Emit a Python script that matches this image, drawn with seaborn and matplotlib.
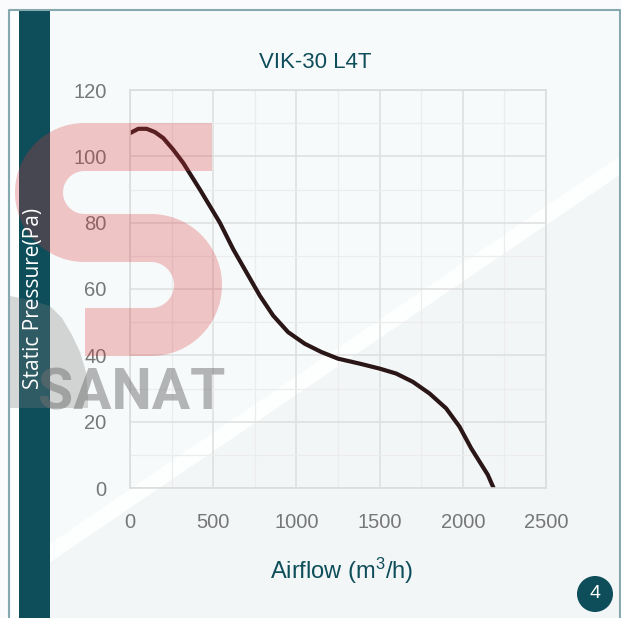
import numpy as np
import pandas as pd
import matplotlib
matplotlib.use("Agg")
import matplotlib.pyplot as plt
import seaborn as sns
from matplotlib.patches import Polygon, Rectangle, Circle
from matplotlib.ticker import MultipleLocator

# fan curve
airflow = [0, 50, 100, 150, 200, 260, 320, 420, 540, 620, 700, 780, 860, 950,
           1050, 1150, 1250, 1380, 1500, 1600, 1700, 1800, 1900, 1980, 2050,
           2100, 2150, 2185]
pressure = [107, 108.3, 108.3, 107.3, 105.5, 102, 98, 90, 80, 72, 65, 58, 52, 47,
            43.5, 41, 39, 37.5, 36, 34.5, 32, 28.5, 24, 18.5, 12, 8, 4, 0]
x_ticks = [0, 500, 1000, 1500, 2000, 2500]
y_ticks = [0, 20, 40, 60, 80, 100, 120]

TITLE = 'VIK-30 L4T'
XLABEL = 'Airflow (m$^3$/h)'
YLABEL = 'Static Pressure(Pa)'
TEAL = '#0e4d5a'

W, H = 621, 618

sns.set_style("whitegrid")
plt.rcParams['font.family'] = ['Liberation Sans', 'DejaVu Sans']
plt.rcParams['mathtext.default'] = 'regular'

fig = plt.figure(figsize=(W / 100, H / 100), dpi=100)
fig.patch.set_facecolor('#f9fbfc')

# background layer in pixel coords
bg = fig.add_axes([0, 0, 1, 1], zorder=0)
bg.set_xlim(0, W)
bg.set_ylim(H, 0)
bg.axis('off')

def diag(x, off):
    return 333 - 0.68 * (x - 380) + off

bg.add_patch(Rectangle((10, 10), 610, H - 10, color='#f3f6f7', lw=0))
bg.add_patch(Polygon([(10, 10), (620, 10), (620, diag(620, -14)), (10, diag(10, -14))],
                     color='#f7fafb', lw=0))
bg.add_patch(Polygon([(10, diag(10, -14)), (620, diag(620, -14)),
                      (620, diag(620, 5)), (10, diag(10, 5))], color='#fdfefe', lw=0))
bg.plot([9, 9, 620, 620], [H, 9.5, 9.5, H], color='#86a8af', lw=1.5)
bg.add_patch(Rectangle((10, 10), 9, H - 10, color='#fdfefe', lw=0))
bg.add_patch(Rectangle((19, 10), 31, H - 10, color=TEAL, lw=0))

# main chart
ax = fig.add_axes([130 / W, 1 - 488 / H, 416 / W, 398 / H], zorder=1)
ax.set_facecolor('none')
df = pd.DataFrame({'airflow': airflow, 'pressure': pressure})
sns.lineplot(data=df, x='airflow', y='pressure', ax=ax, color='#2a1616',
             lw=3.0, sort=False)
ax.set_xlim(0, 2500)
ax.set_ylim(0, 120)
ax.set_xticks(x_ticks)
ax.set_yticks(y_ticks)
ax.xaxis.set_minor_locator(MultipleLocator(250))
ax.yaxis.set_minor_locator(MultipleLocator(10))
ax.grid(which='major', color='#dedede', lw=1.1)
ax.grid(which='minor', color='#ececec', lw=0.9)
for s in ax.spines.values():
    s.set_visible(True)
    s.set_color('#dcdcdc')
    s.set_linewidth(1.2)
ax.tick_params(axis='both', which='both', length=0, labelsize=14.5,
               labelcolor='#777777')
ax.tick_params(axis='y', pad=17)
ax.tick_params(axis='x', pad=18)
ax.set_xlabel('')
ax.set_ylabel('')

# watermark + labels on top
wm = fig.add_axes([0, 0, 1, 1], zorder=2)
wm.set_facecolor('none')
wm.set_xlim(0, W)
wm.set_ylim(H, 0)
wm.axis('off')

def arc(cx, cy, r, a0, a1, n=60):
    a = np.radians(np.linspace(a0, a1, n))
    return list(zip(cx + r * np.cos(a), cy + r * np.sin(a)))

pts = [(212, 147)] + arc(84.5, 192.5, 45.5, -90, -270) + arc(151, 285, 47, -90, 90) + [(85, 332)]
sx, sy = zip(*pts)
wm.plot(sx, sy, color='#d9383c', alpha=0.28, lw=48 * 0.72,
        solid_capstyle='butt', solid_joinstyle='round')
wm.add_patch(Polygon([(10, 296), (30, 300), (50, 306), (62, 318), (72, 335), (80, 352),
                      (86, 372), (88, 395), (88, 408), (10, 408)],
                     color='#7d7d7d', alpha=0.3, lw=0))
wm.text(38, 410, 'SANAT', family='Roboto', fontweight='bold', fontsize=41,
        color='#707070', alpha=0.5, ha='left', va='baseline')

wm.text(315, 62, TITLE, ha='center', va='center', fontsize=16, color=TEAL)
wm.text(342, 571, XLABEL, ha='center', va='center', fontsize=17, color=TEAL)
wm.text(34, 298, YLABEL, rotation=90, ha='center', va='center', fontsize=15,
        family=['Open Sans', 'DejaVu Sans'], color='white', zorder=10)
wm.add_patch(Circle((595, 594), 18, color=TEAL, lw=0))
wm.text(595, 594, '4', ha='center', va='center', fontsize=14, color='white')

fig.savefig('out.png', dpi=100, facecolor=fig.get_facecolor())
